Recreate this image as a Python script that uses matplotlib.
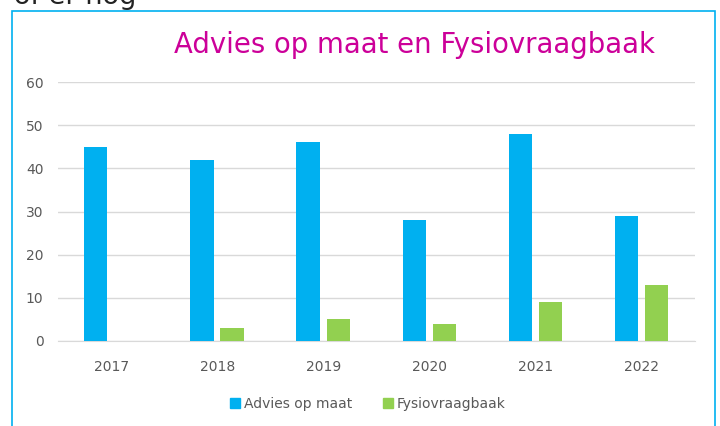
import numpy as np
import matplotlib.pyplot as plt
from matplotlib.patches import Rectangle, Patch

jaren = ['2017', '2018', '2019', '2020', '2021', '2022']
advies = [45, 42, 46, 28, 48, 29]
fysio = [0, 3, 5, 4, 9, 13]

blauw = '#00B0F0'
groen = '#92D050'

W, H = 720, 426
fig = plt.figure(figsize=(W / 100, H / 100), dpi=100)

# afgesneden tekst boven de grafiek
fig.text(-6 / W, 1 - 4 / H, 'r of er nog', fontsize=19.5, color='#222222',
         ha='left', va='baseline')

# kader rond de grafiek
fig.patches.append(Rectangle((12 / W, -0.05), (715 - 12) / W, 1.05 - 11 / H,
                             transform=fig.transFigure, fill=False,
                             edgecolor=blauw, linewidth=1.2))

ax = fig.add_axes([58 / W, 1 - 341 / H, (695 - 58) / W, (341 - 82) / H])
x = np.arange(len(jaren))
bw = 0.22
ax.bar(x - 0.145, advies, bw, color=blauw, label='Advies op maat', zorder=3)
ax.bar(x + 0.14, fysio, bw, color=groen, label='Fysiovraagbaak', zorder=3)

ax.set_xlim(-0.5, len(jaren) - 0.5)
ax.set_ylim(0, 60)
ax.set_yticks(range(0, 61, 10))
ax.set_xticks(x)
ax.set_xticklabels(jaren)
ax.grid(axis='y', color='#D9D9D9', linewidth=1, zorder=0)
for s in ['top', 'right', 'left']:
    ax.spines[s].set_visible(False)
ax.spines['bottom'].set_color('#D9D9D9')
ax.tick_params(length=0, labelsize=10, labelcolor='#595959')
ax.tick_params(axis='x', pad=14)
ax.tick_params(axis='y', pad=10.5)

fig.text(415 / W, 1 - 53 / H, 'Advies op maat en Fysiovraagbaak', fontsize=19.8,
         color='#CC0099', ha='center', va='baseline')

handles = [Patch(color=blauw), Patch(color=groen)]
fig.legend(handles, ['Advies op maat', 'Fysiovraagbaak'], loc='center',
           bbox_to_anchor=(368 / W, 1 - 404 / H), ncol=2, frameon=False,
           fontsize=10, labelcolor='#595959', handlelength=0.7,
           handleheight=0.7, handletextpad=0.3, columnspacing=2.2)

fig.savefig('out.png', dpi=100)
